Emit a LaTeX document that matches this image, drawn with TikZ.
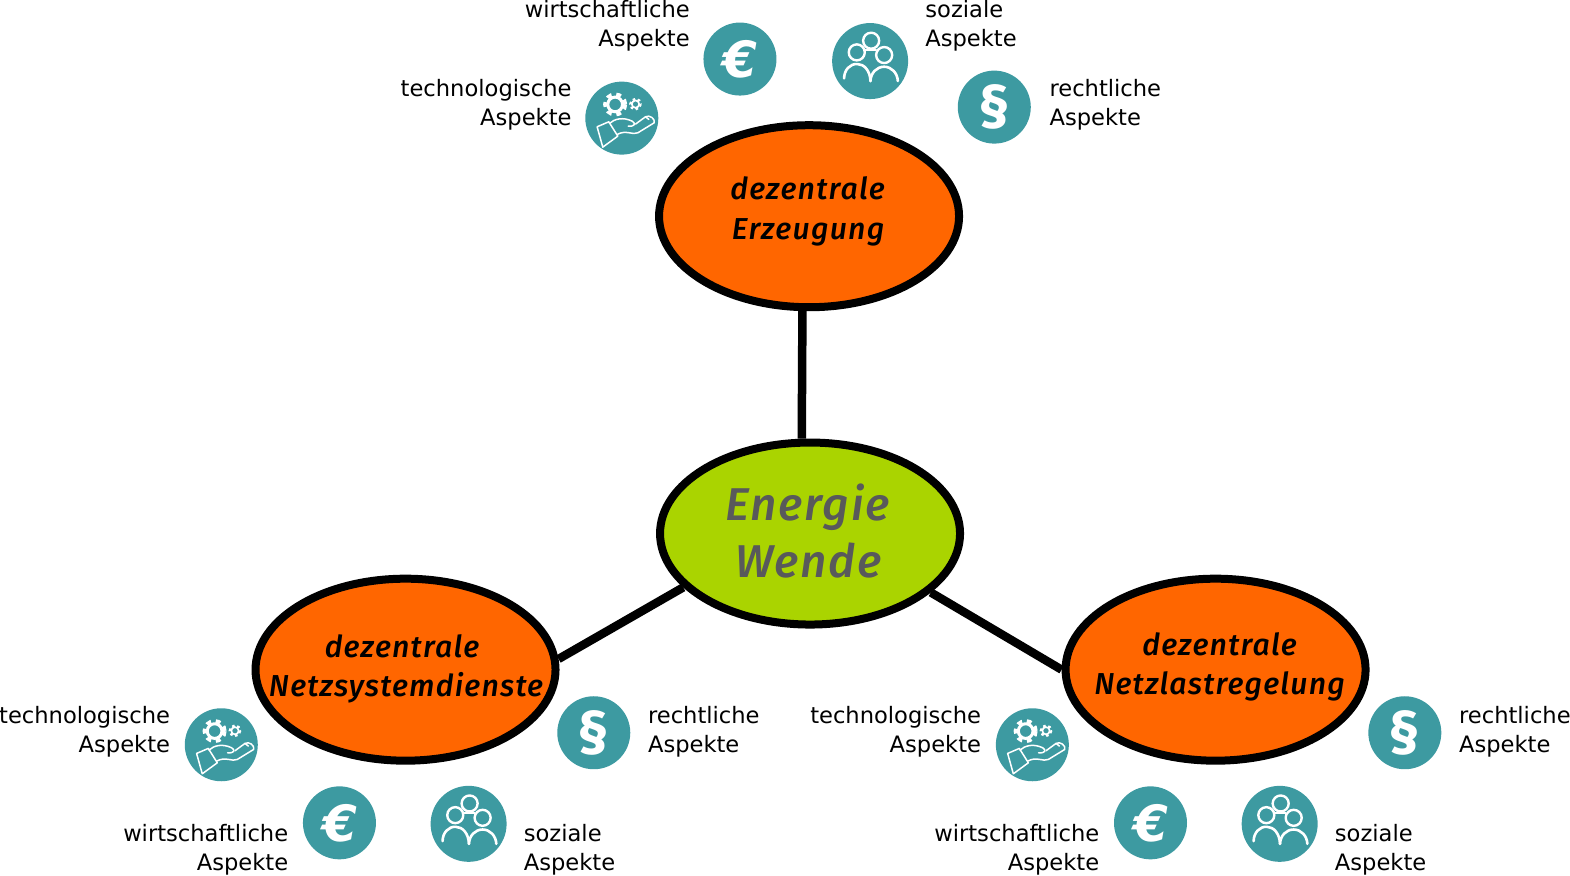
\documentclass[tikz,border=0pt]{standalone}
\usetikzlibrary{shapes.geometric}
\usepackage{fontspec}
\setmainfont{DejaVu Sans}
\newfontfamily\hubfont[LetterSpace=4,BoldItalicFont={Fira Sans Medium Italic}]{Fira Sans}
\newfontfamily\glyphfont{DejaVu Sans}
\newfontfamily\paragraphfont{Fira Sans}
\definecolor{teal1}{HTML}{3D9AA1}
\definecolor{orange1}{HTML}{FF6600}
\definecolor{green1}{HTML}{AAD400}
\definecolor{gray1}{HTML}{58595B}
\newcommand{\hubline}[3]{\makebox[0pt]{\hspace*{#1}\smash{\raisebox{#2}{#3}}}}
\tikzset{
  hub/.style={ellipse,draw=black,line width=8pt,inner sep=0pt,minimum width=300pt,minimum height=182pt,text width=1pt,align=center,text=black},
  link/.style={draw=black,line width=8.5pt},
  disc/.style={circle,fill=teal1,inner sep=0pt,minimum size=73pt,text=white},
  lab/.style={font=\fontsize{22.6}{29}\selectfont,inner sep=0pt},
  labl/.style={lab,align=right,anchor=east},
  labr/.style={lab,align=left,anchor=west},
  ico/.style={draw=white,line width=1.5pt,line join=round,line cap=round},
  techicon/.pic={
    \begin{scope}[scale=1/3,shift={(-157,-326)}]
      \draw[ico,line width=3pt] (137,285) circle (22);
      \draw[white,line width=4pt,dash pattern=on 4.8pt off 4.8pt] (137,285) circle (30);
      \draw[ico,line width=1.7pt] (198,284) circle (11);
      \draw[white,line width=2.4pt,dash pattern=on 2.6pt off 2.6pt] (198,284) circle (15.5);
      \draw[ico] (83,352) -- (118,337) -- (145,380) -- (100,413) -- cycle;
      \draw[ico] (120,342) .. controls (135,328) and (160,322) .. (188,335) .. controls (200,342) and (196,352) .. (176,350);
      \draw[ico] (198,344) -- (228,322) .. controls (240,315) and (258,328) .. (254,340) -- (205,370) .. controls (190,378) and (170,360) .. (143,375);
      \draw[ico] (228,322) -- (238,330);
    \end{scope}
  },
  socialicon/.pic={
    \begin{scope}[scale=1/3,shift={(-150,-153)}]
      \draw[ico,line width=2.4pt] (153,92) circle (24);
      \draw[ico,line width=2.4pt] (110,127) circle (24);
      \draw[ico,line width=2.4pt] (192,135) circle (24);
      \draw[ico,line width=1.6pt] (135,120) -- (168,120);
      \draw[ico,line width=2.6pt] (72,205) .. controls (72,180) and (90,160) .. (112,162) .. controls (132,162) and (150,182) .. (151,213);
      \draw[ico,line width=2.6pt] (151,213) .. controls (152,188) and (170,170) .. (192,170) .. controls (215,170) and (232,190) .. (233,213);
    \end{scope}
  }
}
\newcommand{\aspectgroup}[9]{%
  \node[disc] (#1t) at (#2,#3) {}; \pic at (#1t.center) {techicon};
  \node[disc,font=\glyphfont\fontsize{50}{50}\selectfont\bfseries\itshape] (#1e) at (#4,#5) {€};
  \node[disc,minimum size=76pt] (#1s) at (#6,#7) {}; \pic at (#1s.center) {socialicon};
  \node[disc,font=\paragraphfont\fontsize{58}{58}\selectfont\bfseries] (#1p) at (#8,#9) {§};
}
\begin{document}
\begin{tikzpicture}[x=1.0013pt,y=-1.001pt]
\useasboundingbox (0pt,0pt) rectangle (1570pt,-875pt);
\node[hub,fill=orange1,font=\hubfont\fontsize{30.3}{40}\selectfont\bfseries\itshape] (erz) at (808,216) {\hubline{-3pt}{-3pt}{dezentrale}\\\hubline{-2pt}{-3pt}{Erzeugung}};
\node[hub,fill=green1,text=gray1,font=\hubfont\fontsize{46}{57}\selectfont\bfseries\itshape] (wende) at (809,533) {\hubline{-5pt}{-15.5pt}{Energie}\\\hubline{-3pt}{-15.5pt}{Wende}};
\node[hub,fill=orange1,font=\hubfont\fontsize{30.3}{39}\selectfont\bfseries\itshape] (sys) at (405,669) {\hubline{-7pt}{-7pt}{dezentrale}\\\hubline{1pt}{-7pt}{Netzsystemdienste}};
\node[hub,fill=orange1,font=\hubfont\fontsize{30.3}{39}\selectfont\bfseries\itshape] (last) at (1214,669) {\hubline{8pt}{-5pt}{dezentrale}\\\hubline{8pt}{-5pt}{Netzlastregelung}};
\draw[link] (erz.266) -- (wende.95);
\draw[link] (wende.203) -- (sys.4);
\draw[link] (wende.-26) -- (last.180);
\aspectgroup{a}{621}{118}{739}{59}{869}{61}{993}{107}
\aspectgroup{b}{221}{744}{339}{822}{468}{823}{593}{732}
\aspectgroup{c}{1031}{744}{1149}{822}{1278}{823}{1403}{732}
\node[labl] (atl) at (571,105) {technologische\\Aspekte};
\node[labl] (ael) at (689,26) {wirtschaftliche\\Aspekte};
\node[labr] (asl) at (924,26) {soziale\\Aspekte};
\node[labr] (apl) at (1048,105) {rechtliche\\Aspekte};
\node[labl] (btl) at (170,731) {technologische\\Aspekte};
\node[labl] (bel) at (288,849) {wirtschaftliche\\Aspekte};
\node[labr] (bsl) at (523,849) {soziale\\Aspekte};
\node[labr] (bpl) at (647,731) {rechtliche\\Aspekte};
\node[labl] (ctl) at (980,731) {technologische\\Aspekte};
\node[labl] (cel) at (1098,849) {wirtschaftliche\\Aspekte};
\node[labr] (csl) at (1333,849) {soziale\\Aspekte};
\node[labr] (cpl) at (1457,731) {rechtliche\\Aspekte};
\end{tikzpicture}
\end{document}
